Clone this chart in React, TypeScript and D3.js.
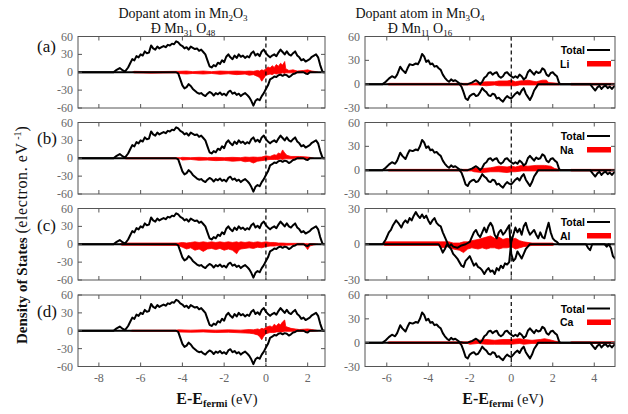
import React from "react";
import * as d3 from "d3";

type Pt = [number, number];
type Pd = [number, number, number];

// ---------- tick labels ----------
const leftXTicks = [-8, -6, -4, -2, 0, 2];
const rightXTicks = [-6, -4, -2, 0, 2, 4];
const leftYTicks = [-60, -30, 0, 30, 60];
const rightYTicks = [-30, 0, 30, 60];
const rightAlYTicks = [-30, 0, 30];
const panelLetters = ["(a)", "(b)", "(c)", "(d)"];
const dopants = ["Li", "Na", "Al", "Ca"];

// ---------- Mn2O3 total DOS (spin up / spin down) ----------
const leftTotalUp: Pt[] = [
  [-9, 0], [-7.3, 0], [-7.15, 4], [-7.0, 7], [-6.85, 3], [-6.75, 1], [-6.6, 8], [-6.5, 15], [-6.4, 22], [-6.3, 20],
  [-6.2, 27], [-6.1, 25], [-6.0, 30], [-5.9, 28], [-5.8, 35], [-5.7, 32], [-5.6, 33], [-5.5, 45], [-5.4, 40], [-5.3, 38],
  [-5.2, 43], [-5.1, 40], [-5.0, 42], [-4.9, 44], [-4.8, 42], [-4.7, 46], [-4.6, 45], [-4.5, 48], [-4.4, 47], [-4.3, 52],
  [-4.2, 50], [-4.1, 46], [-4.0, 44], [-3.9, 40], [-3.8, 42], [-3.7, 38], [-3.6, 43], [-3.5, 41], [-3.4, 39], [-3.3, 40],
  [-3.2, 36], [-3.1, 38], [-3.0, 34], [-2.9, 30], [-2.8, 20], [-2.7, 10], [-2.6, 8], [-2.5, 12], [-2.4, 10], [-2.3, 16],
  [-2.2, 14], [-2.1, 20], [-2.0, 17], [-1.9, 26], [-1.8, 30], [-1.7, 25], [-1.6, 22], [-1.5, 28], [-1.4, 24], [-1.3, 30],
  [-1.2, 26], [-1.1, 28], [-1.0, 24], [-0.9, 27], [-0.8, 25], [-0.7, 32], [-0.6, 35], [-0.5, 28], [-0.4, 31], [-0.3, 27],
  [-0.2, 35], [-0.1, 38], [0.0, 32], [0.1, 28], [0.2, 25], [0.3, 28], [0.4, 30], [0.5, 27], [0.6, 33], [0.7, 38],
  [0.8, 34], [0.9, 30], [1.0, 35], [1.1, 30], [1.2, 28], [1.3, 32], [1.4, 35], [1.5, 28], [1.6, 25], [1.7, 20],
  [1.8, 22], [1.9, 18], [2.0, 20], [2.1, 22], [2.2, 26], [2.3, 28], [2.4, 30], [2.5, 25], [2.6, 12], [2.7, 2],
  [2.75, 0], [2.9, 0],
];
const leftTotalDown: Pt[] = [
  [-9, 0], [-4.3, 0], [-4.2, -2], [-4.1, -12], [-4.0, -22], [-3.9, -27], [-3.8, -25], [-3.7, -20], [-3.6, -23], [-3.5, -28],
  [-3.4, -31], [-3.3, -34], [-3.2, -36], [-3.1, -35], [-3.0, -38], [-2.9, -40], [-2.8, -36], [-2.7, -33], [-2.6, -35], [-2.5, -39],
  [-2.4, -35], [-2.3, -37], [-2.2, -34], [-2.1, -38], [-2.0, -36], [-1.9, -39], [-1.8, -33], [-1.7, -31], [-1.6, -36], [-1.5, -34],
  [-1.4, -38], [-1.3, -36], [-1.2, -40], [-1.1, -37], [-1.0, -35], [-0.9, -38], [-0.8, -42], [-0.7, -48], [-0.6, -56], [-0.5, -48],
  [-0.4, -45], [-0.3, -47], [-0.2, -40], [-0.1, -35], [0.0, -28], [0.1, -22], [0.2, -12], [0.3, -10], [0.4, -7], [0.5, -8],
  [0.6, -5], [0.7, -4], [0.8, -6], [0.9, -4], [1.0, -5], [1.1, -8], [1.2, -6], [1.3, -3], [1.4, -2], [1.5, 0],
  [1.8, 0], [1.9, -2], [2.0, -3], [2.1, 0], [2.9, 0],
];

// ---------- Mn3O4 total DOS (Li, Na, Ca cells) ----------
const rightTotalA: Pt[] = [
  [-7.1, 0], [-6.2, 0], [-6.05, 3], [-5.9, 7], [-5.75, 10], [-5.6, 8], [-5.5, 12], [-5.35, 22], [-5.25, 18], [-5.1, 14],
  [-5.0, 20], [-4.9, 25], [-4.75, 24], [-4.6, 26], [-4.5, 25], [-4.4, 30], [-4.3, 38], [-4.2, 35], [-4.1, 28], [-4.0, 30],
  [-3.9, 25], [-3.8, 26], [-3.7, 22], [-3.6, 23], [-3.5, 20], [-3.4, 18], [-3.3, 12], [-3.2, 8], [-3.1, 5], [-3.0, 3],
  [-2.9, 6], [-2.8, 4], [-2.7, 5], [-2.6, 3], [-2.5, 1], [-2.3, 0], [-2.1, 0], [-1.9, 2], [-1.7, 5], [-1.6, 3],
  [-1.5, 0], [-1.4, 3], [-1.3, 8], [-1.2, 10], [-1.1, 14], [-1.0, 15], [-0.9, 12], [-0.8, 14], [-0.7, 15], [-0.6, 10],
  [-0.5, 8], [-0.4, 10], [-0.3, 14], [-0.2, 15], [-0.1, 12], [0.0, 10], [0.1, 8], [0.2, 10], [0.3, 8], [0.4, 12],
  [0.5, 10], [0.6, 6], [0.7, 8], [0.8, 15], [0.9, 18], [1.0, 15], [1.1, 12], [1.2, 16], [1.3, 14], [1.4, 15],
  [1.5, 20], [1.6, 18], [1.7, 12], [1.8, 10], [1.9, 14], [2.0, 15], [2.1, 12], [2.2, 10], [2.3, 2], [2.35, 0], [5.1, 0],
];
const rightTotalB: Pt[] = [
  [-7.1, 0], [-2.6, 0], [-2.5, 0], [-2.4, -3], [-2.3, -10], [-2.2, -18], [-2.1, -20], [-2.0, -15], [-1.9, -13], [-1.8, -12],
  [-1.7, -15], [-1.6, -14], [-1.5, -10], [-1.4, -5], [-1.3, -8], [-1.2, -10], [-1.1, -14], [-1.0, -15], [-0.9, -12], [-0.8, -13],
  [-0.7, -18], [-0.6, -17], [-0.5, -20], [-0.4, -22], [-0.3, -18], [-0.2, -15], [-0.1, -17], [0.0, -18], [0.1, -15], [0.2, -12],
  [0.3, -10], [0.4, -13], [0.5, -8], [0.6, -5], [0.7, -12], [0.8, -16], [0.9, -20], [1.0, -15], [1.1, -8], [1.2, -4],
  [1.3, 0], [3.8, 0], [3.95, -5], [4.05, -8], [4.15, -4], [4.25, -2], [4.35, -6], [4.45, -3], [4.55, -2], [4.65, -5],
  [4.75, -3], [4.85, -6], [4.95, -3], [5.1, -2],
];

// ---------- Mn3O4 total DOS (Al cell) ----------
const rightAlA: Pt[] = [
  [-7.1, 0], [-6.2, 0], [-6.05, 4], [-5.9, 10], [-5.8, 12], [-5.7, 16], [-5.55, 20], [-5.45, 18], [-5.3, 14], [-5.2, 18],
  [-5.1, 20], [-5.0, 18], [-4.9, 22], [-4.8, 20], [-4.7, 24], [-4.6, 27], [-4.5, 24], [-4.4, 22], [-4.3, 25], [-4.2, 22],
  [-4.1, 24], [-4.0, 20], [-3.9, 17], [-3.8, 20], [-3.7, 22], [-3.6, 18], [-3.5, 16], [-3.4, 15], [-3.3, 10], [-3.2, 6],
  [-3.1, 2], [-3.0, -2], [-2.9, -4], [-2.8, -8], [-2.7, -10], [-2.6, -12], [-2.5, -15], [-2.4, -18], [-2.3, -19], [-2.2, -14],
  [-2.1, -12], [-2.0, -10], [-1.9, -14], [-1.8, -18], [-1.7, -16], [-1.6, -19], [-1.5, -20], [-1.4, -22], [-1.3, -25], [-1.2, -22],
  [-1.1, -20], [-1.0, -23], [-0.9, -22], [-0.8, -25], [-0.7, -20], [-0.6, -22], [-0.5, -18], [-0.4, -20], [-0.3, -16], [-0.2, -17],
  [-0.1, -15], [0.0, 2], [0.1, 8], [0.2, 14], [0.3, 10], [0.4, 13], [0.5, 8], [0.6, 15], [0.7, 18], [0.8, 12],
  [0.9, 8], [1.0, 10], [1.1, 12], [1.2, 8], [1.3, 5], [1.4, 10], [1.5, 6], [1.6, 5], [1.7, 12], [1.8, 18],
  [1.9, 10], [2.0, 5], [2.1, 3], [2.2, 2], [2.3, 0], [5.1, 0],
];
const rightAlB: Pt[] = [
  [-7.1, 0], [-3.5, 0], [-3.4, -3], [-3.3, -7], [-3.2, -4], [-3.1, 0], [-3.0, -2], [-2.9, 0], [-2.8, -2], [-2.6, -3],
  [-2.4, -1], [-2.2, 0], [-2.0, 2], [-1.9, 6], [-1.8, 10], [-1.7, 12], [-1.6, 8], [-1.5, 6], [-1.4, 10], [-1.3, 14],
  [-1.2, 10], [-1.1, 15], [-1.0, 18], [-0.9, 15], [-0.8, 8], [-0.7, 5], [-0.6, 10], [-0.5, 12], [-0.4, 8], [-0.3, 10],
  [-0.2, 13], [-0.1, 16], [0.0, -8], [0.1, -14], [0.2, -12], [0.3, -6], [0.4, -9], [0.5, -12], [0.6, -8], [0.7, -4],
  [0.8, -2], [0.9, 0], [3.6, 0], [3.7, -3], [3.8, -5], [3.9, 0], [4.5, 0], [4.6, -2], [4.7, 0], [4.8, -3],
  [4.9, -10], [5.0, -12], [5.1, -12],
];

// ---------- dopant partial DOS [energy, up, down] in Mn2O3 ----------
const leftLiPdos: Pd[] = [
  [-6.4, 0, 0], [-6.3, 1.5, -1], [-5.5, 1, -1.5], [-4.3, 1.5, -1], [-4.2, 1.5, -2], [-3.8, 2, -3], [-3.5, 1, -2], [-3.0, 2, -3],
  [-2.6, 1, -2], [-2.2, 2, -3.5], [-1.8, 1.5, -2.5], [-1.4, 2, -4], [-1.0, 1.5, -3], [-0.8, 2, -5], [-0.6, 1.5, -4], [-0.4, 3, -7],
  [-0.3, 2, -9], [-0.2, 4, -15], [-0.1, 3, -10], [0.0, 6, -5], [0.1, 9, -4], [0.2, 7, -3], [0.3, 11, -4], [0.4, 8, -2],
  [0.5, 13, -3], [0.6, 10, -2], [0.7, 15, -2], [0.8, 12, -1], [0.9, 18, -2], [0.95, 6, -1], [1.1, 3, -1], [1.3, 4, -1],
  [1.5, 2, -1], [1.8, 3, -0.5], [2.0, 4, -1], [2.2, 2, -0.5], [2.4, 1, -0.5], [2.5, 0, 0],
];
const leftNaPdos: Pd[] = [
  [-6.8, 0, 0], [-6.7, 1, -1], [-4.1, 1, -1], [-4.0, 1.5, -3], [-3.6, 1, -2], [-3.2, 1.5, -3.5], [-2.8, 1, -3], [-2.4, 1.5, -4],
  [-2.0, 1, -3.5], [-1.6, 1.5, -5], [-1.2, 1, -4], [-1.0, 2, -6], [-0.8, 1.5, -5], [-0.6, 2, -8], [-0.4, 1.5, -5], [-0.2, 2, -4],
  [0.0, 4, -3], [0.2, 3, -2], [0.4, 6, -2], [0.5, 5, -2], [0.6, 9, -2], [0.7, 7, -1], [0.8, 14, -2], [0.9, 9, -1],
  [1.0, 5, -1], [1.2, 3, -1], [1.6, 3, -1], [2.0, 2, -1], [2.2, 1, -0.5], [2.3, 0, 0],
];
const leftAlPdos: Pd[] = [
  [-7.0, 0, 0], [-6.9, 2, -1.5], [-4.2, 2, -2], [-4.0, 3, -5], [-3.8, 2, -8], [-3.6, 3, -6], [-3.4, 4, -10], [-3.2, 3, -8],
  [-3.0, 4, -12], [-2.8, 3, -8], [-2.6, 4, -7], [-2.4, 3, -9], [-2.2, 4, -7], [-2.0, 3, -10], [-1.8, 4, -8], [-1.6, 3, -10],
  [-1.4, 4, -16], [-1.3, 3, -10], [-1.2, 4, -8], [-1.0, 3, -7], [-0.8, 4, -6], [-0.6, 3, -7], [-0.4, 4, -5], [-0.2, 3, -6],
  [0.0, 4, -4], [0.2, 3, -3], [0.4, 3, -3], [0.6, 2, -2], [0.8, 2, -2], [1.0, 1.5, -1.5], [1.4, 1.5, -1], [1.8, 1.5, -1],
  [1.9, 1, -4], [2.0, 1, -9], [2.1, 1, -3], [2.3, 1, -1], [2.5, 0, 0],
];
const leftCaPdos: Pd[] = [
  [-6.5, 0, 0], [-6.4, 1, -1], [-4.3, 1, -1], [-4.2, 1.5, -2], [-3.6, 1, -2.5], [-3.0, 1.5, -2], [-2.4, 1, -3], [-1.8, 1.5, -2.5],
  [-1.2, 1, -3.5], [-0.8, 2, -4], [-0.6, 1.5, -5], [-0.4, 3, -7], [-0.3, 2, -10], [-0.2, 4, -15], [-0.1, 3, -9], [0.0, 6, -5],
  [0.2, 8, -3], [0.3, 6, -3], [0.4, 11, -3], [0.5, 8, -2], [0.6, 12, -2], [0.7, 10, -2], [0.8, 15, -2], [0.9, 18, -1],
  [0.95, 7, -1], [1.2, 4, -1], [1.4, 3, -1], [1.6, 2, -1], [2.0, 3, -1], [2.2, 2, -1], [2.4, 1, -0.5], [2.5, 0, 0],
];

// ---------- dopant partial DOS [energy, up, down] in Mn3O4 ----------
const rightLiPdos: Pd[] = [
  [-6.0, 0, 0], [-5.9, 1, -1], [-1.8, 1, -1], [-1.6, 2, -1], [-1.2, 3, -2], [-0.8, 3, -1], [-0.6, 4, -2], [-0.2, 4, -2],
  [0.0, 5, -2], [0.2, 3, -2], [0.4, 4, -1], [0.8, 5, -1], [1.2, 3, -1], [1.5, 5, -1], [1.7, 5, -1], [1.8, 2, -1],
  [2.3, 1, -1], [2.4, 0, 0], [2.8, 0, 0], [2.9, 1, -1], [5.1, 1, -1],
];
const rightNaPdos: Pd[] = [
  [-6.0, 0, 0], [-5.9, 1, -1], [-1.9, 1, -1], [-1.8, 3, -2], [-1.4, 2, -3], [-1.0, 3, -2], [-0.6, 5, -2], [-0.2, 4, -3],
  [0.0, 5, -2], [0.2, 4, -2], [0.5, 6, -1], [0.8, 5, -1], [1.2, 6, -1], [1.6, 6, -1], [1.9, 5, -1], [2.1, 2, -1],
  [2.3, 1, -1], [2.4, 0, 0], [2.8, 0, 0], [2.9, 1, -1], [5.1, 1, -1],
];
const rightAlPdos: Pd[] = [
  [-6.2, 0, 0], [-6.1, 2, -1], [-3.5, 2, -1], [-3.4, 2, -3], [-3.0, 2, -2], [-2.8, 1, -4], [-2.5, 1, -5], [-2.3, 2, -7],
  [-2.1, 2, -4], [-1.9, 3, -3], [-1.6, 4, -4], [-1.4, 5, -3], [-1.2, 6, -4], [-1.0, 7, -3], [-0.8, 5, -3], [-0.6, 6, -4],
  [-0.4, 4, -3], [-0.2, 5, -3], [0.0, 4, -2], [0.2, 5, -4], [0.4, 3, -3], [0.6, 2, -2], [1.0, 1, -1], [2.0, 1, -1],
  [2.1, 0, 0],
];
const rightCaPdos: Pd[] = [
  [-6.0, 0, 0], [-5.9, 1, -1], [-2.1, 1, -1], [-2.0, 2, -2], [-1.6, 3, -1], [-1.2, 4, -2], [-0.8, 3, -2], [-0.4, 4, -2],
  [0.0, 4, -2], [0.4, 5, -1], [0.6, 4, -2], [1.0, 3, -1], [1.4, 4, -1], [1.6, 5, -1], [1.8, 4, -1], [2.1, 2, -1],
  [2.3, 1, -1], [2.4, 0, 0], [2.8, 0, 0], [2.9, 1, -1], [5.1, 1, -1],
];

const leftPdos = [leftLiPdos, leftNaPdos, leftAlPdos, leftCaPdos];
const rightPdos = [rightLiPdos, rightNaPdos, rightAlPdos, rightCaPdos];

const SERIF = "Liberation Serif, Times New Roman, serif";
const SANS = "Liberation Sans, Arial, sans-serif";

type PanelProps = {
  id: string;
  x0: number; x1: number; top: number; h: number;
  xDomain: [number, number];
  yDomain: [number, number];
  xTicks: number[]; yTicks: number[];
  curves: Pt[][];
  pdos: Pd[];
  showXLabels: boolean;
  letter?: string;
  letterDy?: number;
  legend?: string;
};

function Panel(p: PanelProps) {
  const x = d3.scaleLinear().domain(p.xDomain).range([p.x0, p.x1]);
  const y = d3.scaleLinear().domain(p.yDomain).range([p.top + p.h, p.top]);
  const line = d3.line<Pt>().x((d) => x(d[0])).y((d) => y(d[1]));
  const area = d3.area<Pd>().x((d) => x(d[0])).y0((d) => y(d[2])).y1((d) => y(d[1]));
  const tl = 4;
  const gray = "#666";
  const serif = { fontFamily: SERIF };
  return (
    <g>
      <defs>
        <clipPath id={p.id}>
          <rect x={p.x0} y={p.top} width={p.x1 - p.x0} height={p.h} />
        </clipPath>
      </defs>
      <g clipPath={`url(#${p.id})`}>
        <path d={area(p.pdos) || ""} fill="#ff0000" stroke="#ff0000" strokeWidth={0.8} />
        {p.curves.map((c, i) => (
          <path key={i} d={line(c) || ""} fill="none" stroke="#000" strokeWidth={2} strokeLinejoin="round" />
        ))}
        <line x1={x(0)} x2={x(0)} y1={p.top} y2={p.top + p.h} stroke="#000" strokeWidth={1.2} strokeDasharray="4,3" />
      </g>
      <rect x={p.x0} y={p.top} width={p.x1 - p.x0} height={p.h} fill="none" stroke="#555" strokeWidth={1} />
      {p.xTicks.map((t) => (
        <g key={"xt" + t}>
          <line x1={x(t)} x2={x(t)} y1={p.top} y2={p.top + tl} stroke="#555" />
          <line x1={x(t)} x2={x(t)} y1={p.top + p.h} y2={p.top + p.h - tl} stroke="#555" />
          {p.showXLabels && (
            <text x={x(t)} y={p.top + p.h + 15} textAnchor="middle" fontSize={12} fill={gray} style={serif}>
              {t}
            </text>
          )}
        </g>
      ))}
      {p.yTicks.map((t) => (
        <g key={"yt" + t}>
          <line x1={p.x0} x2={p.x0 + tl} y1={y(t)} y2={y(t)} stroke="#555" />
          <line x1={p.x1} x2={p.x1 - tl} y1={y(t)} y2={y(t)} stroke="#555" />
          <text x={p.x0 - 5} y={y(t) + 4} textAnchor="end" fontSize={12} fill={gray} style={serif}>
            {t}
          </text>
        </g>
      ))}
      {p.letter && (
        <text x={37} y={p.top + (p.letterDy ?? 16) + 5} fontSize={17} style={serif} fill="#111">
          {p.letter}
        </text>
      )}
      {p.legend && (
        <g style={{ fontFamily: SANS }} fontWeight="bold" fontSize={10.5} fill="#000">
          <text x={585} y={p.top + 17.5} textAnchor="end">Total</text>
          <line x1={587} x2={610} y1={p.top + 13.5} y2={p.top + 13.5} stroke="#000" strokeWidth={2} />
          <text x={560} y={p.top + 31}>{p.legend}</text>
          <rect x={587} y={p.top + 24.5} width={24} height={5.5} fill="#ff0000" />
        </g>
      )}
    </g>
  );
}

export default function App() {
  const W = 628;
  const H = 414;
  const tops = [36.5, 122.5, 208.5, 295];
  const ph = 71.5;
  const letterOffsets = [10, 16, 17, 17];
  const serif = { fontFamily: SERIF };
  return (
    <svg width={W} height={H} style={{ position: "absolute", left: 0, top: 0, background: "#fff", fontFamily: SERIF }}>
      <rect x={0} y={0} width={W} height={H} fill="#fff" />
      {/* titles */}
      <g style={serif} fontSize={14} fill="#111" textAnchor="middle">
        <text x={183} y={18}>
          Dopant atom in Mn<tspan dy={3} fontSize={9}>2</tspan>
          <tspan dy={-3}>O</tspan>
          <tspan dy={3} fontSize={9}>3</tspan>
        </text>
        <text x={183} y={33}>
          Ð Mn<tspan dy={3} fontSize={9}>31</tspan>
          <tspan dy={-3}> O</tspan>
          <tspan dy={3} fontSize={9}>48</tspan>
        </text>
        <text x={420} y={18}>
          Dopant atom in Mn<tspan dy={3} fontSize={9}>3</tspan>
          <tspan dy={-3}>O</tspan>
          <tspan dy={3} fontSize={9}>4</tspan>
        </text>
        <text x={420} y={33}>
          Ð Mn<tspan dy={3} fontSize={9}>11</tspan>
          <tspan dy={-3}> O</tspan>
          <tspan dy={3} fontSize={9}>16</tspan>
        </text>
      </g>
      {tops.map((top, i) => (
        <Panel
          key={"L" + i}
          id={"clipL" + i}
          x0={78}
          x1={325}
          top={top}
          h={ph}
          xDomain={[-9, 2.83]}
          yDomain={[-60, 60]}
          xTicks={leftXTicks}
          yTicks={leftYTicks}
          curves={[leftTotalUp, leftTotalDown]}
          pdos={leftPdos[i]}
          showXLabels={i === 3}
          letter={panelLetters[i]}
          letterDy={letterOffsets[i]}
        />
      ))}
      {tops.map((top, i) => (
        <Panel
          key={"R" + i}
          id={"clipR" + i}
          x0={365}
          x1={615}
          top={top}
          h={ph}
          xDomain={[-7.05, 5.0]}
          yDomain={i === 2 ? [-30, 30] : [-30, 60]}
          xTicks={rightXTicks}
          yTicks={i === 2 ? rightAlYTicks : rightYTicks}
          curves={i === 2 ? [rightAlA, rightAlB] : [rightTotalA, rightTotalB]}
          pdos={rightPdos[i]}
          showXLabels={i === 3}
          legend={dopants[i]}
        />
      ))}
      {/* x axis labels */}
      {[217, 503].map((cx) => (
        <text key={cx} x={cx} y={404} textAnchor="middle" style={serif} fill="#111">
          <tspan fontWeight="bold" fontSize={16}>E-E</tspan>
          <tspan fontWeight="bold" fontSize={10.5} dy={3}>fermi</tspan>
          <tspan fontSize={14.5} dy={-3}> (eV)</tspan>
        </text>
      ))}
      {/* y axis label */}
      <text transform="translate(27,344) rotate(-90)" style={serif} fontSize={15} fill="#111">
        <tspan fontWeight="bold">Density  of States </tspan>
        <tspan fontSize={16} letterSpacing={0.6}>(electron.  eV</tspan>
        <tspan fontSize={10} dy={-6}> -1</tspan>
        <tspan fontSize={16} dy={6}>)</tspan>
      </text>
    </svg>
  );
}
